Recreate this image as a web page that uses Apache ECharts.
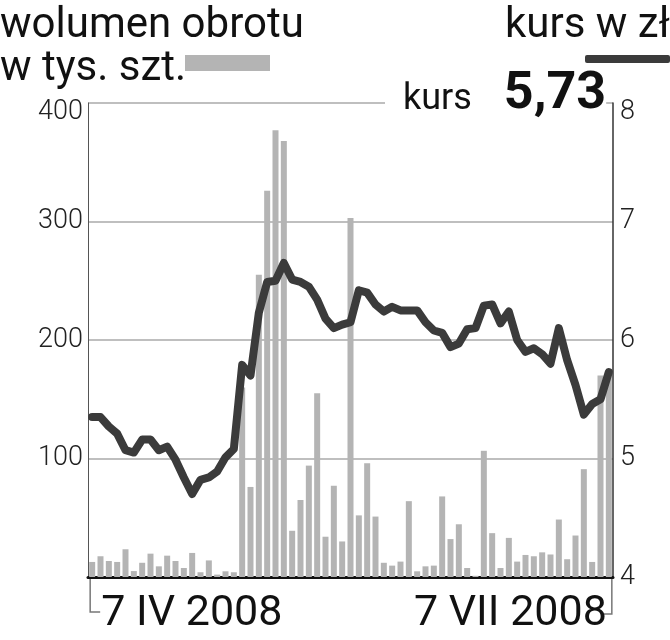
<!DOCTYPE html>
<html>
<head>
<meta charset="utf-8">
<script src="https://cdn.jsdelivr.net/npm/echarts@6/dist/echarts.min.js"></script>
<style>
html,body{margin:0;padding:0;background:#fff;}
#chart{width:670px;height:640px;}
</style>
</head>
<body>
<div id="chart"></div>
<script>
// ---- data ----
const volume = [12.7, 17.5, 13.5, 12.7, 23.4, 5, 12, 19.7, 9, 18, 13.5, 7.6, 20.3, 4, 14, 2, 4.8, 4,
  160, 76, 255, 326, 377, 368, 39, 65, 94, 155, 34, 77, 30,
  303, 52, 96, 51, 12, 9.6, 13, 64, 4.8, 9, 9.6, 68, 32, 44.5, 7.6, 1,
  106.5, 37, 7.6, 33, 13, 18.6, 17.5, 20.8, 19, 48.5, 15, 35, 91, 12.7, 170, 175];
const price = [5.35, 5.35, 5.27, 5.21, 5.07, 5.05, 5.16, 5.16, 5.07, 5.10, 4.99, 4.84, 4.70, 4.82, 4.84, 4.89, 5.01, 5.08,
  5.79, 5.70, 6.23, 6.49, 6.50, 6.65, 6.51, 6.49, 6.45, 6.34, 6.18, 6.10, 6.13,
  6.15, 6.42, 6.40, 6.30, 6.24, 6.28, 6.25, 6.25, 6.25, 6.15, 6.08, 6.06, 5.94, 5.97, 6.09, 6.10, 6.29, 6.30, 6.14, 6.24,
  6.00, 5.90, 5.93, 5.88, 5.80, 6.10, 5.83, 5.62, 5.37, 5.46, 5.50, 5.73];
const dateLabels = ['7 IV 2008', '7 VII 2008'];
const volumeTicks = ['', '100', '200', '300', '400'];
const priceTicks = ['4', '5', '6', '7', '8'];
const categories = volume.map((v, i) => 'd' + (i + 1));
const lastPrice = price[price.length - 1].toFixed(2).replace('.', ',');

const chart = echarts.init(document.getElementById('chart'), null, {renderer: 'canvas'});
const n = categories.length;
const headStyle = {fontSize: 42, fontWeight: 'normal', lineHeight: 43, color: '#111', fontFamily: 'Roboto'};

const option = {
  animation: false,
  backgroundColor: '#fff',
  textStyle: {fontFamily: 'Roboto'},
  title: [
    {text: 'wolumen obrotu\nw tys. szt.', left: 0, top: 5, padding: 0, textStyle: headStyle},
    {text: 'kurs w zł', left: 505, top: 5, padding: 0, textStyle: headStyle},
    {
      text: '{a|kurs}{b|' + lastPrice + '}',
      left: 385, top: 69, padding: [0, 0, 0, 18], backgroundColor: '#fff',
      textStyle: {
        fontWeight: 'normal',
        rich: {
          a: {fontSize: 36, fontFamily: 'Roboto', fontWeight: 'normal', color: '#111', lineHeight: 52, verticalAlign: 'bottom', padding: [0, 0, 3, 0]},
          b: {fontSize: 52, fontFamily: 'Roboto', fontWeight: 'bold', color: '#111', lineHeight: 52, padding: [0, 0, 0, 32], verticalAlign: 'bottom'}
        }
      }
    }
  ],
  legend: [
    {data: ['wolumen'], left: 185, top: 55, padding: 0, itemGap: 0, itemWidth: 85, itemHeight: 16, icon: 'rect',
      formatter: () => '', textStyle: {fontSize: 1}, selectedMode: false},
    {data: ['kurs'], left: 585, top: 55, padding: 0, itemGap: 0, itemWidth: 85, itemHeight: 8, icon: 'roundRect',
      formatter: () => '', textStyle: {fontSize: 1}, selectedMode: false}
  ],
  grid: {left: 88, right: 57, top: 103, bottom: 63},
  xAxis: {
    type: 'category', data: categories, boundaryGap: true,
    axisLine: {lineStyle: {color: '#111', width: 3}},
    axisTick: {show: false},
    axisLabel: {
      interval: 0, margin: 16, color: '#111', fontSize: 43, lineHeight: 43, fontFamily: 'Roboto',
      formatter: (v, i) => i === 0 ? '{l|' + dateLabels[0] + '}' : (i === n - 1 ? '{r|' + dateLabels[1] + '}' : ''),
      alignMinLabel: 'left', alignMaxLabel: 'right',
      rich: {
        l: {fontSize: 43, lineHeight: 43, color: '#111', fontFamily: 'Roboto', padding: [0, 0, 0, 9]},
        r: {fontSize: 43, lineHeight: 43, color: '#111', fontFamily: 'Roboto', padding: [0, 2, 0, 0]}
      }
    }
  },
  yAxis: [
    {
      type: 'value', min: 0, max: 400, interval: 100, position: 'left',
      axisLine: {show: true, lineStyle: {color: '#555', width: 1}},
      axisTick: {show: false},
      splitLine: {lineStyle: {color: '#aaa', width: 1.5}},
      axisLabel: {
        margin: 5, color: '#222', fontSize: 27, fontWeight: 300, fontFamily: 'Roboto',
        formatter: (v) => { const i = Math.round(v / 100); return i === 4 ? '{t|' + volumeTicks[i] + '}' : volumeTicks[i]; },
        rich: {t: {fontSize: 27, fontWeight: 300, fontFamily: 'Roboto', color: '#222', padding: [18, 0, 0, 0]}}
      }
    },
    {
      type: 'value', min: 4, max: 8, interval: 1, position: 'right',
      axisLine: {show: true, lineStyle: {color: '#333', width: 1.5}},
      axisTick: {show: false},
      splitLine: {show: false},
      axisLabel: {
        margin: 7, color: '#222', fontSize: 27, fontWeight: 300, fontFamily: 'Roboto',
        formatter: (v) => { const i = Math.round(v - 4); return i === 4 ? '{t|' + priceTicks[i] + '}' : priceTicks[i]; },
        rich: {t: {fontSize: 27, fontWeight: 300, fontFamily: 'Roboto', color: '#222', padding: [18, 0, 0, 0]}}
      }
    }
  ],
  series: [
    {name: 'wolumen', type: 'bar', data: volume, yAxisIndex: 0, barCategoryGap: '28%',
      itemStyle: {color: '#b4b4b4'}, z: 2},
    {name: 'kurs', type: 'line', data: price, yAxisIndex: 1, symbol: 'none',
      lineStyle: {width: 8, color: '#3b3b3b', cap: 'round', join: 'round'},
      itemStyle: {color: '#3b3b3b'}, z: 3}
  ]
};
chart.setOption(option);

const x0 = chart.convertToPixel({xAxisIndex: 0}, 0) - 2;
const x1 = chart.convertToPixel({xAxisIndex: 0}, n - 1) + 3;
const yb = chart.convertToPixel({yAxisIndex: 0}, 0);
chart.setOption({
  graphic: [
    {type: 'polyline', shape: {points: [[x0, yb], [x0, yb + 35], [x0 + 10, yb + 35]]},
      style: {stroke: '#777', lineWidth: 1.5, fill: null}},
    {type: 'polyline', shape: {points: [[x1, yb], [x1, yb + 37], [x1 - 8, yb + 37]]},
      style: {stroke: '#777', lineWidth: 1.5, fill: null}}
  ]
});
</script>
</body>
</html>
